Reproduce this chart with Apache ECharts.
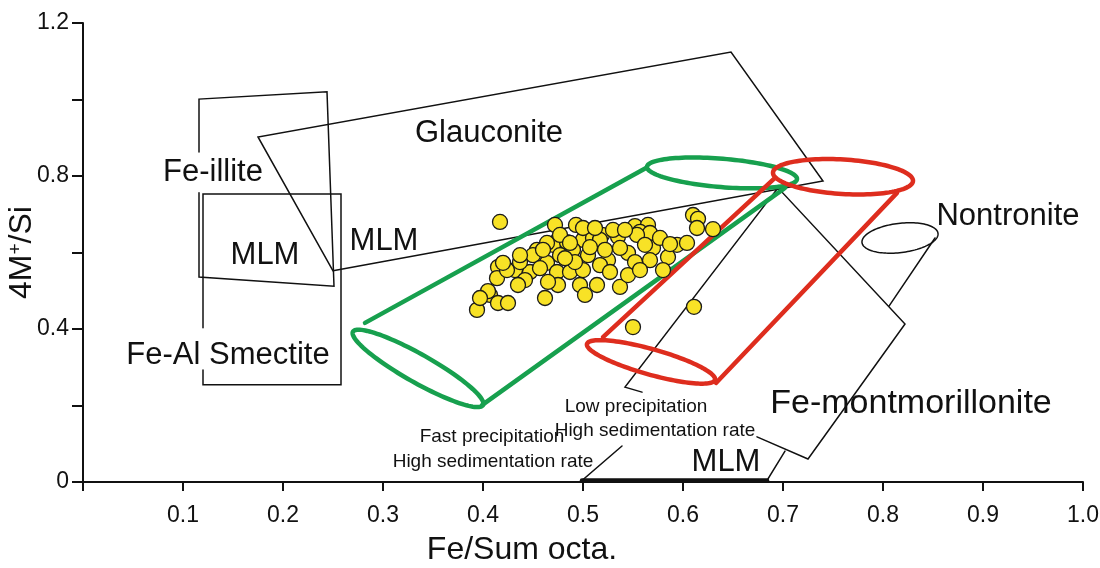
<!DOCTYPE html>
<html><head><meta charset="utf-8">
<script src="https://cdn.jsdelivr.net/npm/echarts@6/dist/echarts.min.js"></script>
<style>html,body{margin:0;padding:0;background:#fff}#c{width:1100px;height:568px}</style>
</head><body><div id="c"></div>
<script>
// ---------- data ----------
const xTickLabels = ['0.1','0.2','0.3','0.4','0.5','0.6','0.7','0.8','0.9','1.0'];
const yTickLabels = ['0','0.4','0.8','1.2'];

// sample points [Fe/Sum octa., 4M+/Si]
const samples = [
  [0.417,0.680],[0.472,0.672],[0.493,0.672],[0.552,0.669],[0.565,0.672],[0.610,0.698],[0.615,0.688],
  [0.614,0.664],[0.630,0.661],[0.475,0.633],[0.500,0.633],[0.510,0.638],[0.519,0.646],[0.535,0.641],
  [0.530,0.659],[0.557,0.654],[0.567,0.651],[0.470,0.620],[0.484,0.627],[0.454,0.607],[0.464,0.625],
  [0.490,0.607],[0.505,0.593],[0.525,0.580],[0.545,0.599],[0.570,0.612],[0.585,0.588],[0.594,0.620],
  [0.604,0.625],[0.580,0.554],[0.567,0.580],[0.415,0.562],[0.432,0.554],[0.447,0.549],[0.464,0.573],
  [0.474,0.549],[0.487,0.549],[0.450,0.593],[0.500,0.554],[0.517,0.567],[0.414,0.533],[0.424,0.554],
  [0.475,0.515],[0.497,0.515],[0.514,0.515],[0.537,0.510],[0.545,0.541],[0.407,0.489],[0.415,0.468],
  [0.425,0.468],[0.462,0.481],[0.502,0.489],[0.394,0.450],[0.550,0.405],[0.611,0.458],[0.420,0.573],
  [0.460,0.607],[0.477,0.646],[0.487,0.625],[0.517,0.633],[0.554,0.646],[0.477,0.593],[0.437,0.575],
  [0.457,0.559],[0.442,0.528],[0.492,0.575],[0.507,0.614],[0.537,0.612],[0.552,0.575],[0.527,0.549],
  [0.562,0.620],[0.500,0.664],[0.542,0.659],[0.577,0.638],[0.482,0.585],[0.405,0.499],[0.435,0.515],
  [0.465,0.523],[0.522,0.607],[0.557,0.554],[0.437,0.593],[0.512,0.664],[0.587,0.622],[0.397,0.481]
];

// field outlines (polylines in data units)
const feIllite      = [[0.116,0.863],[0.116,1.001],[0.244,1.020],[0.251,0.512],[0.116,0.536],[0.116,0.756]];
const mlmSmectite   = [[0.120,0.403],[0.120,0.753],[0.258,0.753],[0.258,0.254],[0.120,0.254],[0.120,0.293]];
const glauconite    = [[0.250,0.552],[0.175,0.902],[0.648,1.124],[0.740,0.787],[0.250,0.552]];
const feMont        = [[0.559,0.235],[0.542,0.248],[0.695,0.769],[0.822,0.413],[0.725,0.060],[0.674,0.118]];
const mlmLower      = [[0.539,0.094],[0.499,0.004],[0.684,0.004],[0.702,0.081]];
const mlmBase       = [[0.499,0.004],[0.684,0.004]];
const nontroniteLine= [[0.852,0.638],[0.806,0.460]];

// tubes: side lines
const greenUpper = [[0.282,0.416],[0.563,0.821]];
const greenLower = [[0.399,0.201],[0.702,0.769]];
const redLeft    = [[0.520,0.379],[0.692,0.795]];
const redRight   = [[0.633,0.259],[0.814,0.756]];

// ellipses: [centerX, centerY, majorEndX, majorEndY, minorEndX, minorEndY]
const greenEllipses = [[0.335,0.297,0.400,0.201,0.342,0.329],[0.639,0.808,0.714,0.792,0.638,0.771]];
const redEllipses   = [[0.568,0.314,0.632,0.267,0.5715,0.346],[0.760,0.798,0.830,0.787,0.759,0.753]];
const blackEllipses = [[0.817,0.638,0.855,0.650,0.8187,0.600]];

// annotations
const annotations = [
  {text:'Glauconite', at:[0.406,0.910], size:'big'},
  {text:'Fe-illite', at:[0.130,0.810], size:'big'},
  {text:'MLM', at:[0.182,0.591], size:'big'},
  {text:'MLM', at:[0.301,0.630], size:'big'},
  {text:'Fe-Al Smectite', at:[0.145,0.332], size:'big'},
  {text:'Nontronite', at:[0.925,0.695], size:'big'},
  {text:'Fe-montmorillonite', at:[0.828,0.204], size:'huge'},
  {text:'MLM', at:[0.643,0.052], size:'big'},
  {text:'Fast precipitation', at:[0.409,0.118], size:'small'},
  {text:'High sedimentation rate', at:[0.410,0.052], size:'small'},
  {text:'Low precipitation', at:[0.553,0.196], size:'small'},
  {text:'High sedimentation rate', at:[0.572,0.133], size:'small'}
];

// ---------- styles ----------
const GREEN = '#17A04E', RED = '#DE2D1E', FONT = '"Liberation Sans", Arial, sans-serif';
const fontSizes = {big: 31, huge: 34, small: 19};

function poly(data, color, width, z) {
  return {type:'line', data, symbol:'none', silent:true, animation:false, z,
    lineStyle:{color, width, cap:'round', join:'miter'}};
}
function ellipses(list, color, width, z) {
  return {type:'custom', coordinateSystem:'cartesian2d', silent:true, animation:false, z,
    encode:{x:[0,2,4], y:[1,3,5]}, data:list,
    renderItem(params, api) {
      const c = api.coord([api.value(0), api.value(1)]);
      const m = api.coord([api.value(2), api.value(3)]);
      const n = api.coord([api.value(4), api.value(5)]);
      const ax = m[0]-c[0], ay = m[1]-c[1], bx = n[0]-c[0], by = n[1]-c[1];
      const pts = [];
      for (let i = 0; i < 120; i++) {
        const t = i / 120 * Math.PI * 2;
        pts.push([c[0]+ax*Math.cos(t)+bx*Math.sin(t), c[1]+ay*Math.cos(t)+by*Math.sin(t)]);
      }
      return {type:'polygon', shape:{points:pts}, style:{fill:'none', stroke:color, lineWidth:width}};
    }};
}

const chart = echarts.init(document.getElementById('c'), null, {renderer:'canvas'});
chart.setOption({
  animation:false,
  backgroundColor:'#fff',
  grid:{left:83, right:17, top:23, bottom:86, containLabel:false, outerBoundsMode:'none'},
  xAxis:{type:'value', min:0, max:1, interval:0.1,
    name:'Fe/Sum octa.', nameLocation:'middle', nameGap:52, nameMoveOverlap:false,
    nameTextStyle:{color:'#111', fontSize:32, fontFamily:FONT, padding:[0,122,0,0]},
    axisLine:{lineStyle:{color:'#111', width:2}},
    axisTick:{length:9, lineStyle:{color:'#111', width:2}},
    axisLabel:{color:'#111', fontSize:23, margin:22, fontFamily:'"Liberation Sans Narrow", "Liberation Sans", sans-serif',
      formatter:(v)=>{ const i = Math.round(v*10); return i>=1 ? xTickLabels[i-1] : ''; }},
    splitLine:{show:false}},
  yAxis:{type:'value', min:0, max:1.2, interval:0.2,
    name:'4M{sup|+}/Si', nameLocation:'middle', nameGap:44, nameRotate:90, nameMoveOverlap:false,
    nameTextStyle:{color:'#111', fontSize:32, fontFamily:FONT,
      rich:{sup:{fontSize:19, fontFamily:FONT, color:'#111', verticalAlign:'top', padding:[0,0,14,0]}}},
    axisLine:{lineStyle:{color:'#111', width:2}},
    axisTick:{length:11, lineStyle:{color:'#111', width:2}},
    axisLabel:{color:'#111', fontSize:23, margin:14, fontFamily:FONT,
      formatter:(v)=>{ const i = Math.round(v*5); return i%2===0 ? yTickLabels[i/2] : ''; }},
    splitLine:{show:false}},
  series:[
    poly(feIllite,'#111',1.5,2), poly(mlmSmectite,'#111',1.5,2), poly(glauconite,'#111',1.5,2),
    poly(feMont,'#111',1.5,2), poly(mlmLower,'#111',1.5,2), poly(mlmBase,'#111',4.5,2),
    poly(nontroniteLine,'#111',1.5,2), ellipses(blackEllipses,'#111',1.5,2),
    poly(greenUpper,GREEN,4.5,3), poly(greenLower,GREEN,4.5,3), ellipses(greenEllipses,GREEN,4.5,3),
    poly(redLeft,RED,4.5,4), poly(redRight,RED,4.5,4), ellipses(redEllipses,RED,4.5,4),
    {type:'scatter', data:samples, symbol:'circle', symbolSize:15, z:10, silent:true, animation:false,
      itemStyle:{color:'#F8E226', borderColor:'#1a1a1a', borderWidth:1.3, opacity:1}},
    {type:'custom', coordinateSystem:'cartesian2d', silent:true, animation:false, z:12,
      encode:{x:0, y:1},
      data:annotations.map((a,i)=>[a.at[0], a.at[1], i]),
      renderItem(params, api){
        const a = annotations[api.value(2)];
        const p = api.coord([api.value(0), api.value(1)]);
        return {type:'text', x:p[0], y:p[1], style:{text:a.text, fill:'#111',
          font: fontSizes[a.size] + 'px ' + FONT, align:'center', verticalAlign:'middle'}};
      }}
  ]
});
</script></body></html>
